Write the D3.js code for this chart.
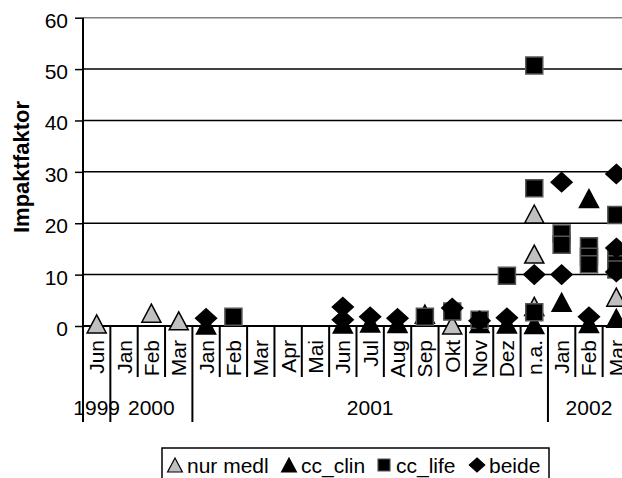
<!DOCTYPE html>
<html>
<head>
<meta charset="utf-8">
<script src="https://cdn.jsdelivr.net/npm/d3@7"></script>
<style>
  body { margin: 0; background: #fff; }
  svg { display: block; font-family: "Liberation Sans", Arial, sans-serif; }
</style>
</head>
<body>
<script>
// data
var months = ['Jun','Jan','Feb','Mar','Jan','Feb','Mar','Apr','Mai','Jun','Jul','Aug','Sep','Okt','Nov','Dez','n.a.','Jan','Feb','Mar'];
var years = ['1999','2000','2001','2002'];
var yearSpans = [1, 3, 13, 3];   // how many months each year covers
var yTicks = [0, 10, 20, 30, 40, 50, 60];

// values per category (several points can share a category)
var nurMedl = [[0.4],[],[2.5],[1.0],[],[],[],[],[],[],[],[],[],[0.2],[],[],[21.8,14.0,3.8],[],[],[5.6]];
var ccClin  = [[],[],[],[],[0.2],[],[],[],[],[0.4],[0.6],[0.5],[2.3],[],[0.5],[0.4],[0.3],[4.6],[24.8,0.5],[1.5]];
var ccLife  = [[],[],[],[],[],[1.8],[],[],[],[],[],[],[1.8],[2.8],[1.2],[9.8],[50.7,26.8,2.7],[18.0,15.8],[15.5,13.5,12.0],[21.6,13.5,12.0,11.0]];
var beide   = [[],[],[],[],[1.5],[],[],[],[],[3.7,1.2],[1.8],[1.5],[],[3.5],[1.0],[1.6],[10.0],[28.0,10.0],[1.8],[29.6,15.2,10.5]];

var W = 622, H = 478;
var svg = d3.select('body').append('svg')
  .attr('width', W)
  .attr('height', H);

var x = d3.scaleBand()
  .domain(months.map((d, i) => i))
  .range([83, 630]);

var y = d3.scaleLinear()
  .domain([0, 60])
  .range([326, 17.7]);

// gridlines
svg.append('g')
  .selectAll('line')
  .data(yTicks.filter(d => d > 0))
  .join('line')
    .attr('x1', 83).attr('x2', W)
    .attr('y1', d => y(d)).attr('y2', d => y(d))
    .attr('stroke', d => d === 60 ? '#808080' : '#000')
    .attr('stroke-width', 1.5);

// y axis
var yAxis = svg.append('g')
  .attr('transform', 'translate(83,0)')
  .call(d3.axisLeft(y).tickValues(yTicks).tickSize(8).tickPadding(7));
yAxis.select('.domain').remove();
yAxis.selectAll('.tick line').attr('stroke', '#000').attr('stroke-width', 1.5);
yAxis.selectAll('.tick text')
  .attr('font-size', 21)
  .attr('fill', '#000')
  .attr('font-family', '"Liberation Sans", Arial, sans-serif')
  .attr('dy', '0.45em');

svg.append('line')
  .attr('x1', 83).attr('x2', 83)
  .attr('y1', y(60)).attr('y2', 422)
  .attr('stroke', '#000').attr('stroke-width', 2);

// x axis line
svg.append('line')
  .attr('x1', 83).attr('x2', W)
  .attr('y1', y(0)).attr('y2', y(0))
  .attr('stroke', '#000').attr('stroke-width', 2);

// month separators, longer where a year starts
var yearStarts = [];
yearSpans.reduce((acc, n) => { yearStarts.push(acc); return acc + n; }, 0);
svg.append('g')
  .selectAll('line')
  .data(months.map((d, i) => i).filter(i => i > 0))
  .join('line')
    .attr('x1', i => x(i)).attr('x2', i => x(i))
    .attr('y1', y(0))
    .attr('y2', i => yearStarts.includes(i) ? 422 : 377)
    .attr('stroke', '#000').attr('stroke-width', 2);

// month labels
svg.append('g')
  .selectAll('text')
  .data(months)
  .join('text')
    .attr('transform', (d, i) => 'translate(' + (x(i) + x.bandwidth() / 2 + 7.5) + ',340) rotate(-90)')
    .attr('text-anchor', 'end')
    .attr('font-size', 21)
    .text(d => d);

// year labels
svg.append('g')
  .selectAll('text')
  .data(years)
  .join('text')
    .attr('x', (d, i) => {
      var a = yearStarts[i], b = a + yearSpans[i];
      return (x(a) + x(b - 1) + x.bandwidth()) / 2;
    })
    .attr('y', 415)
    .attr('text-anchor', 'middle')
    .attr('font-size', 21)
    .text(d => d);

// axis title
svg.append('text')
  .attr('transform', 'translate(29,167) rotate(-90)')
  .attr('text-anchor', 'middle')
  .attr('font-size', 22)
  .attr('font-weight', 'bold')
  .text('Impaktfaktor');

// marker shapes
var shapes = {
  triangle: s => 'M0,' + (-s * 0.5) + 'L' + (s * 0.53) + ',' + (s * 0.5) + 'L' + (-s * 0.53) + ',' + (s * 0.5) + 'Z',
  square: s => 'M' + (-s / 2) + ',' + (-s / 2) + 'h' + s + 'v' + s + 'h' + (-s) + 'Z',
  diamond: s => 'M0,' + (-s * 0.5) + 'L' + (s * 0.55) + ',0L0,' + (s * 0.5) + 'L' + (-s * 0.55) + ',0Z'
};

var series = [
  { name: 'nur medl', values: nurMedl, shape: 'triangle', fill: '#c0c0c0', stroke: '#000', size: 18 },
  { name: 'cc_clin', values: ccClin, shape: 'triangle', fill: '#000', stroke: '#000', size: 18 },
  { name: 'cc_life', values: ccLife, shape: 'square', fill: '#000', stroke: '#555', size: 17 },
  { name: 'beide', values: beide, shape: 'diamond', fill: '#000', stroke: '#000', size: 19 }
];

series.forEach(s => {
  var pts = [];
  s.values.forEach((vals, i) => vals.forEach(v => pts.push({ i: i, v: v })));
  svg.append('g')
    .selectAll('path')
    .data(pts)
    .join('path')
      .attr('transform', d => 'translate(' + (x(d.i) + x.bandwidth() / 2) + ',' + y(d.v) + ')')
      .attr('d', shapes[s.shape](s.size))
      .attr('fill', s.fill)
      .attr('stroke', s.stroke)
      .attr('stroke-width', 1.5)
      .attr('stroke-linejoin', 'miter');
});

// legend
var legend = svg.append('g');
legend.append('rect')
  .attr('x', 162).attr('y', 448)
  .attr('width', 387).attr('height', 40)
  .attr('fill', '#fff')
  .attr('stroke', '#000').attr('stroke-width', 1.5);

var legendX = [175, 289, 384, 477];
series.forEach((s, k) => {
  legend.append('path')
    .attr('transform', 'translate(' + legendX[k] + ',465)')
    .attr('d', shapes[s.shape](s.shape === 'square' ? 12 : 14))
    .attr('fill', s.fill)
    .attr('stroke', s.stroke)
    .attr('stroke-width', 1.2);
  legend.append('text')
    .attr('x', legendX[k] + 12)
    .attr('y', 473)
    .attr('font-size', 21)
    .text(s.name);
});
</script>
</body>
</html>
